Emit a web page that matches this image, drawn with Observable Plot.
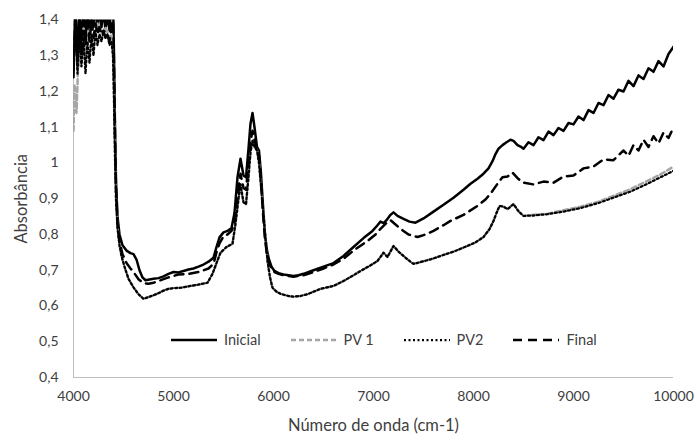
<!DOCTYPE html>
<html><head><meta charset="utf-8">
<script src="https://cdn.jsdelivr.net/npm/d3@7"></script>
<script src="https://cdn.jsdelivr.net/npm/@observablehq/plot@0.6"></script>
<style>
body{margin:0;background:#fff;font-family:Lato, sans-serif;}
#wrap{position:relative;width:696px;height:434px;}
#legend{position:absolute;top:331px;left:171px;display:flex;align-items:center;font-size:14.5px;color:#404040;font-family:Lato, sans-serif;}
.item{display:flex;align-items:center;margin-right:30px;}
.item svg{margin-right:7px;display:block;}
</style></head>
<body><div id="wrap"></div>
<script>
const xTicks = [4000, 5000, 6000, 7000, 8000, 9000, 10000];
const yTicks = [0.4, 0.5, 0.6, 0.7, 0.8, 0.9, 1.0, 1.1, 1.2, 1.3, 1.4];
const yTickLabels = ["0,4","0,5","0,6","0,7","0,8","0,9","1","1,1","1,2","1,3","1,4"];
const seriesNames = ["Inicial", "PV 1", "PV2", "Final"];

const inicialX = [4000,4020,4040,4060,4080,4100,4120,4140,4160,4180,4200,4220,4240,4260,4280,4300,4320,4340,4360,4380,4395,4405,4415,4425,4440,4460,4490,4530,4570,4600,4630,4660,4690,4720,4760,4800,4850,4900,4950,5000,5050,5100,5150,5200,5250,5300,5350,5400,5430,5460,5500,5540,5580,5610,5640,5670,5700,5725,5750,5770,5790,5810,5835,5855,5875,5895,5915,5935,5955,5980,6010,6050,6100,6150,6200,6250,6300,6400,6500,6600,6700,6800,6900,6990,7040,7070,7100,7130,7170,7200,7240,7300,7360,7420,7500,7600,7700,7800,7900,7970,8040,8100,8150,8190,8220,8250,8290,8330,8370,8400,8440,8470,8500,8550,8600,8650,8700,8750,8800,8850,8900,8950,9000,9050,9100,9150,9200,9250,9300,9350,9400,9450,9500,9550,9600,9650,9700,9750,9800,9850,9900,9950,10000];
const inicialY = [1.24,1.45,1.27,1.44,1.30,1.46,1.33,1.45,1.36,1.44,1.38,1.45,1.37,1.44,1.38,1.43,1.37,1.42,1.37,1.45,1.46,1.30,1.10,0.95,0.85,0.80,0.77,0.755,0.748,0.745,0.73,0.70,0.68,0.672,0.674,0.676,0.678,0.683,0.69,0.695,0.694,0.698,0.702,0.705,0.71,0.716,0.724,0.735,0.765,0.792,0.806,0.81,0.818,0.86,0.96,1.012,0.965,0.96,1.04,1.11,1.14,1.10,1.045,1.035,0.97,0.88,0.80,0.755,0.73,0.71,0.698,0.692,0.688,0.686,0.684,0.686,0.69,0.70,0.71,0.72,0.74,0.765,0.79,0.81,0.826,0.836,0.832,0.84,0.855,0.862,0.852,0.844,0.836,0.833,0.845,0.864,0.883,0.903,0.925,0.942,0.956,0.97,0.985,1.005,1.025,1.04,1.05,1.058,1.065,1.062,1.05,1.046,1.04,1.058,1.05,1.072,1.064,1.088,1.078,1.098,1.09,1.112,1.108,1.13,1.12,1.148,1.14,1.168,1.162,1.19,1.18,1.205,1.2,1.23,1.215,1.245,1.235,1.265,1.255,1.285,1.27,1.305,1.325];

const pv1X = [4000,4010,4030,4050,4070,4100,4130,4160,4200,4240,4280,4320,4360,4380,4395,4405,4415,4425,4440,4460,4480,4510,4550,4600,4650,4700,4750,4800,4850,4900,4950,5000,5070,5150,5250,5340,5390,5430,5470,5530,5590,5620,5650,5670,5700,5725,5750,5770,5790,5810,5835,5855,5880,5910,5940,5965,5990,6030,6070,6150,6200,6270,6350,6470,6600,6700,6800,6870,6960,7040,7100,7140,7200,7250,7300,7350,7400,7500,7600,7670,7800,7940,8020,8100,8160,8200,8230,8260,8300,8340,8400,8450,8500,8600,8740,8900,9070,9250,9400,9570,9740,9870,10000];
const pv1Y = [1.09,1.22,1.14,1.30,1.27,1.38,1.31,1.38,1.35,1.39,1.36,1.38,1.35,1.36,1.30,1.18,1.02,0.90,0.82,0.77,0.74,0.71,0.676,0.652,0.633,0.62,0.625,0.63,0.636,0.643,0.648,0.65,0.651,0.655,0.66,0.665,0.69,0.72,0.749,0.765,0.774,0.83,0.90,0.94,0.89,0.885,0.96,1.03,1.062,1.045,1.035,1.0,0.92,0.82,0.726,0.68,0.651,0.64,0.634,0.628,0.626,0.628,0.634,0.648,0.656,0.67,0.686,0.698,0.712,0.726,0.749,0.737,0.768,0.752,0.74,0.728,0.718,0.725,0.733,0.74,0.752,0.768,0.778,0.793,0.815,0.838,0.86,0.88,0.878,0.871,0.885,0.865,0.852,0.855,0.858,0.868,0.878,0.892,0.908,0.927,0.95,0.968,0.99];

const pv2X = [4000,4020,4040,4060,4080,4100,4120,4140,4160,4180,4200,4220,4240,4260,4280,4300,4320,4340,4360,4380,4395,4405,4415,4425,4440,4460,4480,4510,4550,4600,4650,4700,4750,4800,4850,4900,4950,5000,5070,5150,5250,5340,5390,5430,5470,5530,5590,5620,5650,5670,5700,5725,5750,5770,5790,5810,5835,5855,5880,5910,5940,5965,5990,6030,6070,6150,6200,6270,6350,6470,6600,6700,6800,6870,6960,7040,7100,7140,7200,7250,7300,7350,7400,7500,7600,7670,7800,7940,8020,8100,8160,8200,8230,8260,8300,8340,8400,8450,8500,8600,8740,8900,9070,9250,9400,9570,9740,9870,10000];
const pv2Y = [1.28,1.38,1.25,1.36,1.27,1.35,1.25,1.34,1.28,1.36,1.30,1.37,1.33,1.36,1.34,1.37,1.35,1.36,1.33,1.34,1.30,1.18,1.02,0.90,0.82,0.77,0.74,0.71,0.676,0.652,0.633,0.62,0.625,0.63,0.636,0.643,0.648,0.65,0.651,0.655,0.66,0.665,0.69,0.72,0.749,0.765,0.774,0.83,0.90,0.94,0.89,0.885,0.96,1.03,1.062,1.045,1.035,1.0,0.92,0.82,0.726,0.68,0.651,0.64,0.634,0.628,0.626,0.628,0.634,0.648,0.656,0.67,0.686,0.698,0.712,0.726,0.749,0.737,0.768,0.752,0.74,0.728,0.718,0.725,0.733,0.74,0.752,0.768,0.778,0.793,0.815,0.838,0.86,0.88,0.878,0.871,0.885,0.865,0.852,0.853,0.857,0.864,0.874,0.888,0.903,0.92,0.942,0.96,0.978];

const finalX = [4000,4020,4040,4060,4080,4100,4120,4140,4160,4180,4200,4220,4240,4260,4280,4300,4320,4340,4360,4380,4395,4405,4415,4425,4440,4460,4490,4530,4570,4600,4650,4700,4750,4800,4850,4900,4950,5050,5150,5250,5350,5400,5430,5460,5500,5540,5580,5610,5640,5670,5700,5725,5750,5770,5790,5810,5835,5855,5875,5895,5915,5935,5955,5980,6010,6050,6100,6200,6300,6400,6500,6600,6700,6800,6940,7020,7070,7120,7170,7220,7270,7350,7440,7520,7600,7700,7770,7900,8040,8120,8170,8240,8290,8340,8390,8450,8500,8600,8700,8800,8900,9000,9100,9200,9300,9400,9500,9550,9600,9650,9700,9750,9800,9850,9900,9950,10000];
const finalY = [1.26,1.42,1.29,1.41,1.31,1.42,1.33,1.41,1.34,1.40,1.35,1.39,1.36,1.38,1.36,1.37,1.35,1.36,1.34,1.38,1.42,1.28,1.08,0.93,0.83,0.78,0.745,0.72,0.705,0.695,0.675,0.664,0.662,0.665,0.67,0.675,0.68,0.688,0.69,0.695,0.705,0.718,0.75,0.775,0.795,0.80,0.81,0.835,0.91,0.97,0.93,0.925,1.0,1.06,1.09,1.065,1.035,1.02,0.95,0.86,0.785,0.745,0.722,0.705,0.695,0.69,0.686,0.682,0.686,0.695,0.705,0.716,0.732,0.755,0.782,0.80,0.816,0.83,0.84,0.828,0.816,0.80,0.793,0.80,0.81,0.826,0.838,0.855,0.88,0.898,0.914,0.942,0.96,0.962,0.973,0.955,0.945,0.94,0.948,0.945,0.962,0.965,0.985,0.99,1.01,1.008,1.035,1.02,1.05,1.035,1.065,1.045,1.075,1.055,1.085,1.07,1.1];

const toRows = (xs, ys) => xs.map((x, i) => ({x, y: ys[i]}));
const inicial = toRows(inicialX, inicialY);
const pv1 = toRows(pv1X, pv1Y);
const pv2 = toRows(pv2X, pv2Y);
const final = toRows(finalX, finalY);

const chart = Plot.plot({
  width: 696, height: 434,
  marginLeft: 73, marginRight: 23, marginTop: 19.5, marginBottom: 57,
  style: {fontFamily: "Lato, sans-serif", fontSize: "14px", color: "#404040", background: "#fff"},
  x: {domain: [4000, 10000], ticks: xTicks, tickSize: 0, tickPadding: 14, tickFormat: d => String(d),
      label: "Número de onda (cm-1)", labelAnchor: "center", labelOffset: 53, labelArrow: false},
  y: {domain: [0.4, 1.4], ticks: yTicks, tickSize: 0, tickPadding: 15, tickFormat: (d, i) => yTickLabels[i],
      label: "Absorbância", labelAnchor: "center", labelOffset: 58, labelArrow: false},
  marks: [
    Plot.ruleX([4000], {stroke: "#bfbfbf", strokeWidth: 1}),
    Plot.ruleY([0.4], {stroke: "#bfbfbf", strokeWidth: 1}),
    Plot.line(inicial, {x: "x", y: "y", stroke: "#000", strokeWidth: 2.5, clip: true}),
    Plot.line(pv1, {x: "x", y: "y", stroke: "#a6a6a6", strokeWidth: 2.5, strokeDasharray: "5,3", clip: true}),
    Plot.line(pv2, {x: "x", y: "y", stroke: "#000", strokeWidth: 2.25, strokeDasharray: "2,2.5", clip: true}),
    Plot.line(final, {x: "x", y: "y", stroke: "#000", strokeWidth: 2.5, strokeDasharray: "9,6", clip: true})
  ]
});
d3.select(chart).selectAll('g[aria-label="x-axis label"] text, g[aria-label="y-axis label"] text').style("font-size", "16.5px");
const wrap = document.getElementById("wrap");
wrap.appendChild(chart);

const legendStyles = [
  {stroke: "#000", width: 2.5, dash: null},
  {stroke: "#a6a6a6", width: 2.5, dash: "5,3"},
  {stroke: "#000", width: 2.25, dash: "2,2.5"},
  {stroke: "#000", width: 2.5, dash: "9,6"}
];
const legend = document.createElement("div");
legend.id = "legend";
seriesNames.forEach((name, i) => {
  const s = legendStyles[i];
  const item = document.createElement("div");
  item.className = "item";
  item.innerHTML = `<svg width="46" height="10"><line x1="0" x2="46" y1="5" y2="5" stroke="${s.stroke}" stroke-width="${s.width}" ${s.dash ? `stroke-dasharray="${s.dash}"` : ""}/></svg><span>${name}</span>`;
  legend.appendChild(item);
});
wrap.appendChild(legend);
</script>
</body></html>
